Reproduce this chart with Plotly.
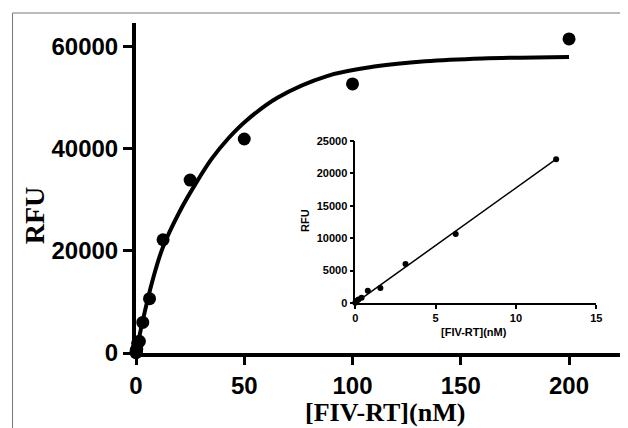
import plotly.graph_objects as go

# Main saturation data
conc = [0, 0.1, 0.195, 0.39, 0.78, 1.5625, 3.125, 6.25, 12.5, 25, 50, 100, 200]
rfu = [50, 350, 550, 800, 1900, 2300, 6000, 10650, 22200, 33900, 41960, 52750, 61570]

# Fitted curve
fit_x = [0, 3.2, 7.7, 12.3, 20, 27.7, 35, 42.7, 50.5, 65.5, 88.2, 110.9, 133.6, 160, 200]
fit_y = [0, 6500, 14300, 20600, 27600, 33300, 38100, 42100, 45400, 50100, 54300, 56200, 57200, 57750, 58050]

# Inset (linear range)
inset_x = [0, 0.1, 0.195, 0.39, 0.78, 1.5625, 3.125, 6.25, 12.5]
inset_y = [50, 350, 550, 800, 1900, 2300, 6000, 10650, 22200]
inset_line_x = [0, 12.5]
inset_line_y = [0, 22200]

main_xticks = [0, 50, 100, 150, 200]
main_yticks = [0, 20000, 40000, 60000]
inset_xticks = [0, 5, 10, 15]
inset_yticks = [0, 5000, 10000, 15000, 20000, 25000]

OFF = 8  # page body margin
W, H = 628 - OFF, 428 - OFF
L, R, T, B = 136 - OFF, 1, 23 - OFF, 75
pw, ph = W - L - R, H - T - B


def px2paper_x(px):
    return (px - OFF - L) / pw


def px2paper_y(py):
    return (H - B - (py - OFF)) / ph


sans = "Liberation Sans, Arial, sans-serif"
serif = "Liberation Serif, Times New Roman, serif"

fig = go.Figure()
fig.add_trace(go.Scatter(x=fit_x, y=fit_y, mode="lines", line=dict(color="black", width=4, shape="spline", smoothing=1),
                         xaxis="x", yaxis="y", hoverinfo="skip", cliponaxis=False))
fig.add_trace(go.Scatter(x=conc, y=rfu, mode="markers", marker=dict(color="black", size=13),
                         xaxis="x", yaxis="y", cliponaxis=False))
fig.add_trace(go.Scatter(x=inset_line_x, y=inset_line_y, mode="lines", line=dict(color="black", width=1.5),
                         xaxis="x2", yaxis="y2", cliponaxis=False))
fig.add_trace(go.Scatter(x=inset_x, y=inset_y, mode="markers", marker=dict(color="black", size=6),
                         xaxis="x2", yaxis="y2", cliponaxis=False))

axis_common = dict(showgrid=False, zeroline=False, showline=True, linecolor="black", ticks="outside",
                   tickcolor="black", tickformat="d")


def label(text, px, py, family, size, angle=0):
    return dict(text=text, x=px2paper_x(px), y=px2paper_y(py), xref="paper", yref="paper",
                xanchor="center", yanchor="middle", textangle=angle, showarrow=False,
                font=dict(family=family, size=size, color="black", weight="bold"))


fig.update_layout(
    width=W, height=H,
    margin=dict(l=L, r=R, t=T, b=B),
    paper_bgcolor="white", plot_bgcolor="white",
    showlegend=False,
    xaxis=dict(domain=[0, 1], range=[0, 224], tickvals=main_xticks, linewidth=4, ticklen=8, tickwidth=3,
               tickfont=dict(family=sans, size=24, color="black", weight="bold"), anchor="y", **axis_common),
    yaxis=dict(domain=[0, 1], range=[0, 64700], tickvals=main_yticks, linewidth=4, ticklen=9, tickwidth=3,
               tickfont=dict(family=sans, size=24, color="black", weight="bold"), anchor="x", **axis_common),
    xaxis2=dict(domain=[px2paper_x(358), px2paper_x(602)], range=[0, 15], tickvals=inset_xticks,
                linewidth=1.5, ticklen=4, tickwidth=1.5,
                tickfont=dict(family=sans, size=11, color="black", weight="bold"), anchor="y2", **axis_common),
    yaxis2=dict(domain=[px2paper_y(303), px2paper_y(141)], range=[0, 25000], tickvals=inset_yticks,
                linewidth=1.5, ticklen=4, tickwidth=1.5,
                tickfont=dict(family=sans, size=11, color="black", weight="bold"), anchor="x2", **axis_common),
    annotations=[
        label("RFU", 33, 215, serif, 28, -90),
        label("[FIV-RT](nM)", 388, 412, serif, 26),
        label("RFU", 307, 220, sans, 11, -90),
        label("[FIV-RT](nM)", 478, 332, sans, 11),
    ],
    shapes=[
        dict(type="line", xref="paper", yref="paper", x0=px2paper_x(11), x1=px2paper_x(628),
             y0=px2paper_y(13), y1=px2paper_y(13), line=dict(color="#777777", width=1)),
        dict(type="line", xref="paper", yref="paper", x0=px2paper_x(11), x1=px2paper_x(11),
             y0=px2paper_y(13), y1=px2paper_y(428), line=dict(color="#777777", width=1)),
    ],
)

fig.write_html("out.html")
